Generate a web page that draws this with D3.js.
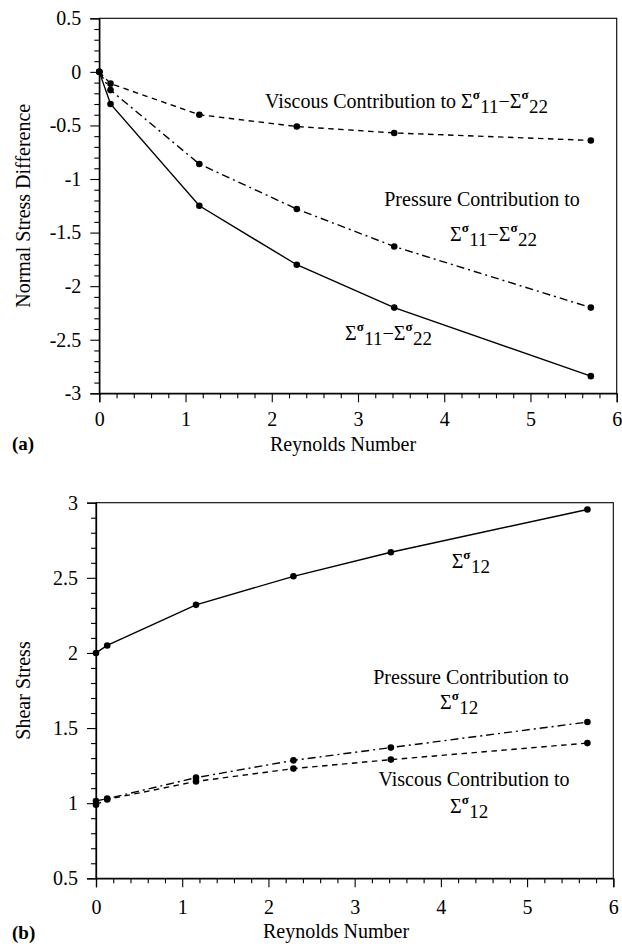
<!DOCTYPE html>
<html><head><meta charset="utf-8">
<script src="https://cdn.jsdelivr.net/npm/d3@7"></script>
<style>
html,body{margin:0;padding:0;background:#fff;}
svg{display:block;}
text{font-family:"Liberation Serif","Times New Roman",serif;fill:#000;}
</style></head>
<body>
<script>
// ---- data ----
const reynolds = [0, 0.13, 1.16, 2.29, 3.42, 5.70];
// panel (a): normal stress difference
const normalTotal    = [0, -0.30, -1.25, -1.80, -2.20, -2.84];
const normalPressure = [0, -0.17, -0.86, -1.28, -1.63, -2.20];
const normalViscous  = [0, -0.11, -0.40, -0.51, -0.57, -0.64];
// panel (b): shear stress
const shearTotal    = [2.00, 2.05, 2.32, 2.51, 2.67, 2.955];
const shearPressure = [1.015, 1.03, 1.17, 1.285, 1.37, 1.54];
const shearViscous  = [0.99, 1.025, 1.145, 1.23, 1.29, 1.40];
const xTicks = [0, 1, 2, 3, 4, 5, 6];
const yTicksA = [0.5, 0, -0.5, -1, -1.5, -2, -2.5, -3];
const yTicksB = [0.5, 1, 1.5, 2, 2.5, 3];

const W = 622, H = 946;
const svg = d3.select("body").append("svg").attr("width", W).attr("height", H);

const styles = {
  solid: null,
  dashed: "5.5,4.5",
  dashdot: "8,4,2,4"
};

function panel(opt) {
  const x = d3.scaleLinear().domain([0, 6]).range([opt.left, opt.right]);
  const y = d3.scaleLinear().domain(opt.ydom).range([opt.bottom, opt.top]);
  const g = svg.append("g");
  // frame
  g.append("rect").attr("x", opt.left).attr("y", opt.top)
    .attr("width", opt.right - opt.left).attr("height", opt.bottom - opt.top)
    .attr("fill", "none").attr("stroke", "#000").attr("stroke-width", 1.1);
  // minor ticks
  const xMinor = d3.range(0, 6.0001, 0.2).map(v => +v.toFixed(2)).filter(v => !xTicks.includes(v));
  const yMinor = d3.range(opt.ydom[0], opt.ydom[1] + 0.0001, 0.1).map(v => +v.toFixed(2)).filter(v => !opt.yTicks.includes(v));
  g.append("g").attr("transform", `translate(0,${opt.bottom})`)
    .call(d3.axisBottom(x).tickValues(xMinor).tickSize(5).tickFormat(""))
    .call(s => { s.select(".domain").remove(); s.selectAll("text").remove(); });
  g.append("g").attr("transform", `translate(${opt.left},0)`)
    .call(d3.axisLeft(y).tickValues(yMinor).tickSize(5).tickFormat(""))
    .call(s => { s.select(".domain").remove(); s.selectAll("text").remove(); });
  // major ticks
  const ax = g.append("g").attr("transform", `translate(0,${opt.bottom})`)
    .call(d3.axisBottom(x).tickValues(xTicks).tickSize(9).tickPadding(opt.xpad).tickFormat(d => String(d)));
  ax.select(".domain").attr("stroke-width", 1.3);
  const ay = g.append("g").attr("transform", `translate(${opt.left},0)`)
    .call(d3.axisLeft(y).tickValues(opt.yTicks).tickSize(9).tickPadding(9).tickFormat(d => String(d)));
  ay.select(".domain").attr("stroke-width", 1.3);
  g.selectAll(".tick line").attr("stroke-width", 1.1);
  g.selectAll(".tick text").attr("font-family", "Liberation Serif").attr("font-size", 20);

  const line = d3.line().x(d => x(d[0])).y(d => y(d[1]));
  opt.series.forEach(s => {
    const pts = reynolds.map((r, i) => [r, s.values[i]]);
    g.append("path").datum(pts).attr("d", line).attr("fill", "none")
      .attr("stroke", "#000").attr("stroke-width", 1.4)
      .attr("stroke-dasharray", styles[s.style]);
    g.selectAll(null).data(pts).enter().append("circle")
      .attr("cx", d => x(d[0])).attr("cy", d => y(d[1])).attr("r", 3.3).attr("fill", "#000");
  });
  // axis titles
  g.append("text").attr("x", opt.xtitle[0]).attr("y", opt.xtitle[1])
    .attr("text-anchor", "middle").attr("font-size", 20).text("Reynolds Number");
  g.append("text").attr("transform", `translate(${opt.ytitle[0]},${(opt.top + opt.bottom) / 2}) rotate(-90)`)
    .attr("text-anchor", "middle").attr("font-size", 20).text(opt.ylabel);
  g.append("text").attr("x", 12).attr("y", opt.tag[1])
    .attr("font-family", "Liberation Sans").attr("font-weight", "bold").attr("font-size", 19).text(opt.tag[0]);
  return {x, y, g};
}

// sigma text helper: items like ["Σ","σ","11"] or plain strings
function sigmaText(parent, x, y, items, prefix) {
  const t = parent.append("text").attr("x", x).attr("y", y).attr("font-size", 20);
  let pending = 0;
  const add = (txt, size, dy, extra) => {
    const ts = t.append("tspan").attr("font-size", size).text(txt);
    if (dy + pending !== 0) ts.attr("dy", dy + pending);
    pending = 0;
    if (extra) extra(ts);
    return ts;
  };
  if (prefix) add(prefix, 20, 0);
  items.forEach(it => {
    if (typeof it === "string") { add(it, 20, 0); return; }
    add(it[0], 20, 0);
    add(it[1], 13, -9, ts => ts.attr("font-weight", "bold"));
    add(it[2], 19, 14, ts => ts.attr("dx", 0.5));
    pending = -5;
  });
  return t;
}

const A = panel({
  left: 99.3, right: 616.7, top: 18.3, bottom: 393.3, ydom: [-3, 0.5], yTicks: yTicksA,
  xpad: 10, xtitle: [343, 451], ytitle: [30], ylabel: "Normal Stress Difference", tag: ["(a)", 450],
  series: [
    {values: normalTotal, style: "solid"},
    {values: normalPressure, style: "dashdot"},
    {values: normalViscous, style: "dashed"}
  ]
});
const pairA = [["Σ", "σ", "11"], "\u2212", ["Σ", "σ", "22"]];
sigmaText(A.g, 265, 108, pairA, "Viscous Contribution to ");
A.g.append("text").attr("x", 482).attr("y", 206).attr("text-anchor", "middle").attr("font-size", 20).text("Pressure Contribution to");
sigmaText(A.g, 450, 241, pairA);
sigmaText(A.g, 345, 340, pairA);

const B = panel({
  left: 96, right: 613.3, top: 502.7, bottom: 878.3, ydom: [0.5, 3], yTicks: yTicksB,
  xpad: 13, xtitle: [336, 938], ytitle: [30], ylabel: "Shear Stress", tag: ["(b)", 939],
  series: [
    {values: shearTotal, style: "solid"},
    {values: shearPressure, style: "dashdot"},
    {values: shearViscous, style: "dashed"}
  ]
});
const s12 = [["Σ", "σ", "12"]];
sigmaText(B.g, 451.7, 568, s12);
B.g.append("text").attr("x", 471).attr("y", 684).attr("text-anchor", "middle").attr("font-size", 20).text("Pressure Contribution to");
sigmaText(B.g, 440, 709, s12);
B.g.append("text").attr("x", 474).attr("y", 786).attr("text-anchor", "middle").attr("font-size", 20).text("Viscous Contribution to");
sigmaText(B.g, 450, 813, s12);
</script>
</body></html>
